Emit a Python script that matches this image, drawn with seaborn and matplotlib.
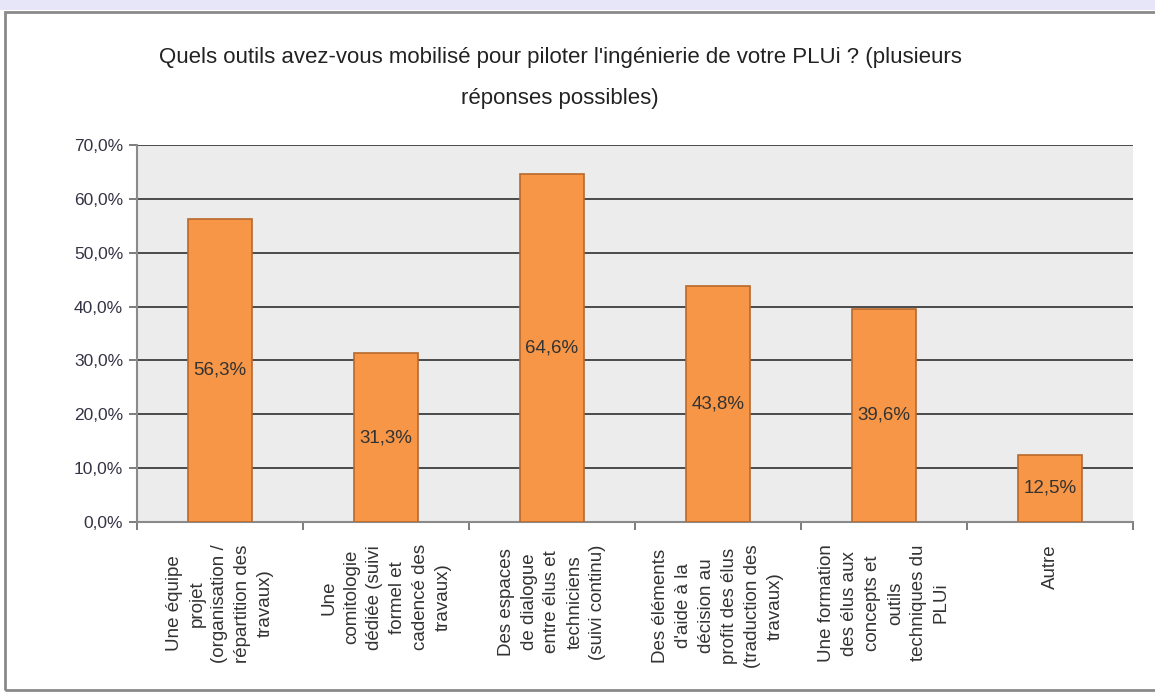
import matplotlib
matplotlib.use("Agg")
import matplotlib.pyplot as plt
import seaborn as sns
import pandas as pd
from matplotlib.patches import Rectangle
from matplotlib.ticker import FixedLocator, FuncFormatter

categories = [
    "Une équipe\nprojet\n(organisation /\nrépartition des\ntravaux)",
    "Une\ncomitologie\ndédiée (suivi\nformel et\ncadencé des\ntravaux)",
    "Des espaces\nde dialogue\nentre élus et\ntechniciens\n(suivi continu)",
    "Des éléments\nd'aide à la\ndécision au\nprofit des élus\n(traduction des\ntravaux)",
    "Une formation\ndes élus aux\nconcepts et\noutils\ntechniques du\nPLUi",
    "Autre",
]
values = [56.3, 31.3, 64.6, 43.8, 39.6, 12.5]
y_ticks = [0, 10, 20, 30, 40, 50, 60, 70]
title = "Quels outils avez-vous mobilisé pour piloter l'ingénierie de votre PLUi ? (plusieurs\nréponses possibles)"

sns.set_theme(style="white")
fonts = ["Liberation Sans Narrow", "Liberation Sans", "DejaVu Sans"]
plt.rcParams["font.family"] = fonts

df = pd.DataFrame({"cat": categories, "val": values})

fig = plt.figure(figsize=(11.55, 6.95), dpi=100)
fig.patch.set_facecolor("white")
# top lavender band and frame
fig.patches.append(Rectangle((0, 1 - 10 / 695), 1, 10 / 695, transform=fig.transFigure,
                             facecolor="#e6e6f8", edgecolor="none", zorder=0))
fig.patches.append(Rectangle((5 / 1155, 5 / 695), 1.2, 1 - 17 / 695, transform=fig.transFigure,
                             facecolor="none", edgecolor="#8a8a8a", linewidth=2, zorder=1))

ax = fig.add_axes([137 / 1155, 1 - 522 / 695, (1133 - 137) / 1155, (522 - 145) / 695])
ax.set_facecolor("#ececec")

sns.barplot(data=df, x="cat", y="val", ax=ax, color="#f79646", width=0.39,
            edgecolor="#b8692c", linewidth=1.2, saturation=1, zorder=3)

ax.set_ylim(0, 70)
ax.set_xlim(-0.5, len(categories) - 0.5)
ax.yaxis.set_major_locator(FixedLocator(y_ticks))
ax.yaxis.set_major_formatter(FuncFormatter(lambda v, p: f"{v:.1f}%".replace(".", ",")))
ax.grid(axis="y", color="#4a4a4a", linewidth=1.4, zorder=1)
ax.set_axisbelow(True)

for s in ["top", "right"]:
    ax.spines[s].set_visible(False)
ax.spines["left"].set_color("#8a8a8a")
ax.spines["left"].set_linewidth(1.5)
ax.spines["bottom"].set_color("#8a8a8a")
ax.spines["bottom"].set_linewidth(1.5)

ax.tick_params(axis="y", which="major", left=True, length=6, width=1.2, color="#666666",
               labelsize=12.5, labelcolor="#333344", pad=4)
ax.set_xticks(range(len(categories)))
ax.set_xticklabels(categories, rotation=90, ha="center", va="top", multialignment="center",
                   fontsize=13.5, color="#333333", linespacing=1.45)
ax.tick_params(axis="x", which="major", bottom=False, pad=10)
ax.set_xticks([i - 0.5 for i in range(len(categories) + 1)], minor=True)
ax.tick_params(axis="x", which="minor", bottom=True, length=6, width=1.2, color="#666666")
ax.set_xlabel("")
ax.set_ylabel("")

for i, v in enumerate(values):
    ax.text(i, v / 2, f"{v:.1f}%".replace(".", ","), ha="center", va="center",
            fontsize=13.5, color="#333333", zorder=5)

fig.text(560 / 1155, 1 - 47 / 695, title, ha="center", va="top", fontsize=16,
         color="#222222", linespacing=2.25)

fig.savefig("out.png", dpi=100)
